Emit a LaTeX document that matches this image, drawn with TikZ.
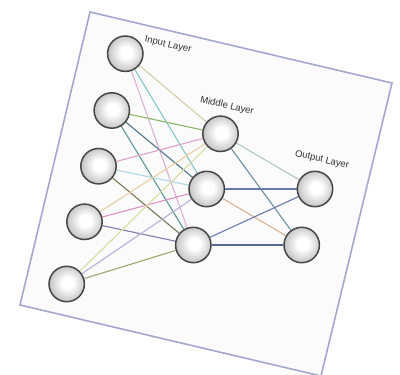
\documentclass[tikz,border=0pt]{standalone}
\usepackage{fontspec}
\setmainfont{Liberation Sans}
\usetikzlibrary{backgrounds}
\pgfdeclareradialshading{sphereshade}{\pgfpoint{2bp}{2bp}}{color(0bp)=(white); color(8bp)=(white); color(22bp)=(black!18); color(34bp)=(black!36); color(44bp)=(black!55); color(50bp)=(black!66)}
\definecolor{cardfill}{RGB}{251,251,252}
\definecolor{cardedge}{RGB}{165,168,205}
\definecolor{cTan}{RGB}{214,204,170}
\definecolor{cTeal}{RGB}{130,200,200}
\definecolor{cPink}{RGB}{222,175,212}
\definecolor{cGreen}{RGB}{140,185,105}
\definecolor{cSlate}{RGB}{80,120,135}
\definecolor{cTealD}{RGB}{90,150,150}
\definecolor{cPink2}{RGB}{222,160,205}
\definecolor{cCyanL}{RGB}{175,215,228}
\definecolor{cOlive}{RGB}{120,120,85}
\definecolor{cOrangeL}{RGB}{230,208,160}
\definecolor{cMagenta}{RGB}{222,145,195}
\definecolor{cPurple}{RGB}{135,120,175}
\definecolor{cYelGr}{RGB}{212,222,160}
\definecolor{cLav}{RGB}{185,175,215}
\definecolor{cKhaki}{RGB}{165,165,115}
\definecolor{cGrTeal}{RGB}{175,200,192}
\definecolor{cSlateB}{RGB}{105,145,162}
\definecolor{cBlue}{RGB}{105,122,175}
\definecolor{cTanO}{RGB}{218,178,145}
\definecolor{cBlueD}{RGB}{88,105,145}
\begin{document}
\begin{tikzpicture}[x=1pt,y=-1pt,
  neuron/.style={circle,minimum size=35.4pt,inner sep=0pt,draw=black!72,line width=1.5pt,shading=sphereshade},
  lbl/.style={font=\fontsize{9.5}{11}\selectfont,text=black!80,rotate=-13,inner sep=0pt},
  link/.style={line width=1.1pt}]
\useasboundingbox (0,0) rectangle (400,375);
\begin{scope}[on background layer]
\filldraw[fill=cardfill,draw=cardedge,line width=1.6pt,line join=miter]
  (90,12) -- (392,83) -- (321,376) -- (20,305) -- cycle;
\end{scope}
% nodes
\node[neuron] (i1) at (125.3,53.7) {};
\node[neuron] (i2) at (111.8,110.5) {};
\node[neuron] (i3) at (98.5,166.2) {};
\node[neuron] (i4) at (84.5,221.8) {};
\node[neuron] (i5) at (66.7,284) {};
\node[neuron] (m1) at (220.5,133.8) {};
\node[neuron] (m2) at (206.7,189) {};
\node[neuron] (m3) at (193.3,245) {};
\node[neuron] (o1) at (315,189) {};
\node[neuron] (o2) at (301.7,245) {};
% labels
\node[lbl] (lin) at (168,45) {Input Layer};
\node[lbl] (lmid) at (227,106) {Middle Layer};
\node[lbl] (lout) at (322,160) {Output Layer};
\begin{scope}[on background layer]
\draw[link,cTan] (i1) -- (m1);
\draw[link,cTeal] (i1) -- (m2);
\draw[link,cPink] (i1) -- (m3);
\draw[link,cGreen] (i2) -- (m1);
\draw[link,cSlate] (i2) -- (m2);
\draw[link,cTealD] (i2) -- (m3);
\draw[link,cPink2] (i3) -- (m1);
\draw[link,cCyanL] (i3) -- (m2);
\draw[link,cOlive] (i3) -- (m3);
\draw[link,cOrangeL] (i4) -- (m1);
\draw[link,cMagenta] (i4) -- (m2);
\draw[link,cPurple] (i4) -- (m3);
\draw[link,cYelGr] (i5) -- (m1);
\draw[link,cLav] (i5) -- (m2);
\draw[link,cKhaki] (i5) -- (m3);
\draw[link,cGrTeal] (m1) -- (o1);
\draw[link,cSlateB] (m1) -- (o2);
\draw[link,cBlue] (m2) -- (o1);
\draw[link,cTanO] (m2) -- (o2);
\draw[link,cBlue] (m3) -- (o1);
\draw[link,cBlueD] (m3) -- (o2);
\end{scope}
\end{tikzpicture}
\end{document}
